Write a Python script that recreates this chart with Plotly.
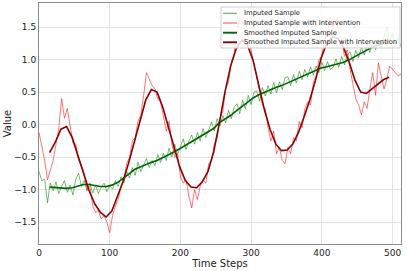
import plotly.graph_objects as go

# Raw series sampled every 4 time steps (0..512)
raw_t = list(range(0, 513, 4))
imputed = [
    -0.72, -0.86, -0.84, -1.20, -0.90, -1.02, -0.88, -1.06, -0.95, -0.86,   # 0-36
    -1.04, -0.93, -1.08, -0.84, -0.75, -0.95, -0.86, -1.02, -0.90, -1.05,   # 40-76
    -0.93, -1.06, -0.96, -0.90, -1.03, -0.94, -0.99, -0.86, -0.95, -0.80,   # 80-116
    -0.90, -0.72, -0.82, -0.66, -0.78, -0.58, -0.72, -0.62, -0.52, -0.66,   # 120-156
    -0.55, -0.63, -0.46, -0.58, -0.44, -0.55, -0.36, -0.50, -0.30, -0.46,   # 160-196
    -0.34, -0.22, -0.38, -0.25, -0.16, -0.30, -0.12, -0.25, -0.06, -0.20,   # 200-236
    -0.08, 0.04, -0.10, 0.09, -0.02, 0.14, 0.03, 0.22, 0.09, 0.27,          # 240-276
    0.32, 0.17, 0.38, 0.24, 0.45, 0.31, 0.50, 0.52, 0.36, 0.57,             # 280-316
    0.44, 0.60, 0.47, 0.65, 0.49, 0.66, 0.54, 0.72, 0.74, 0.60,             # 320-356
    0.77, 0.64, 0.82, 0.69, 0.85, 0.73, 0.89, 0.76, 0.90, 0.80,             # 360-396
    0.96, 0.83, 0.97, 0.85, 0.88, 1.01, 0.88, 1.05, 0.92, 1.07,             # 400-436
    1.12, 0.97, 1.14, 1.03, 1.19, 1.07, 1.24, 1.11, 1.28, 1.15,             # 440-476
    1.31, 1.19, 1.36, 1.50, 1.28, 1.40, 1.22, 1.34, 1.20,                   # 480-512
]
intervention = [
    -0.12, -0.35, -0.55, -0.85, -0.70, -0.55, -0.30, -0.05, 0.40, 0.10,
    0.25, -0.05, -0.28, -0.30, -0.55, -0.62, -0.75, -1.00, -0.95, -1.25,
    -1.35, -1.32, -1.45, -1.40, -1.50, -1.66, -1.40, -1.25, -1.15, -0.95,
    -0.85, -0.60, -0.50, -0.25, -0.20, 0.05, 0.15, 0.45, 0.80, 0.70,
    0.60, 0.55, 0.40, 0.35, 0.15, -0.10, 0.05, -0.30, -0.50, -0.45,
    -0.80, -0.90, -0.85, -1.10, -1.28, -1.00, -1.15, -0.95, -0.85, -0.90,
    -0.60, -0.55, -0.30, -0.20, 0.10, 0.20, 0.55, 0.65, 0.95, 1.10,
    1.40, 1.65, 1.55, 1.60, 1.35, 1.15, 0.95, 0.70, 0.50, 0.30,
    0.25, -0.05, -0.25, -0.10, -0.45, -0.35, -0.55, -0.60, -0.35, -0.45,
    -0.20, -0.25, 0.05, -0.05, 0.25, 0.35, 0.30, 0.65, 0.75, 1.00,
    1.05, 1.30, 1.45, 1.65, 1.50, 1.60, 1.45, 1.30, 1.05, 1.15,
    0.85, 0.60, 0.40, 0.30, 0.15, 0.35, 0.25, 0.55, 0.80, 0.45,
    0.95, 0.75, 0.55, 0.70, 0.90, 0.85, 0.80, 0.75, 0.78,
]

# Smoothed series sampled every 8 time steps (15..495)
smooth_t = list(range(15, 496, 8))
smooth_imputed = [
    -0.96, -0.97, -0.98, -0.98, -0.97, -0.95, -0.92, -0.92, -0.94, -0.95,
    -0.95, -0.93, -0.89, -0.83, -0.76, -0.69, -0.65, -0.61, -0.58, -0.55,
    -0.51, -0.47, -0.42, -0.37, -0.32, -0.27, -0.22, -0.17, -0.12, -0.06,
    0.03, 0.08, 0.14, 0.21, 0.28, 0.35, 0.41, 0.46, 0.50, 0.53,
    0.57, 0.60, 0.64, 0.68, 0.72, 0.76, 0.80, 0.84, 0.87, 0.89,
    0.91, 0.93, 0.96, 1.00, 1.05, 1.10, 1.15, 1.19, 1.22, 1.25, 1.28,
]
smooth_intervention = [
    -0.43, -0.27, -0.07, -0.03, -0.20, -0.48, -0.76, -1.02, -1.22, -1.35,
    -1.42, -1.33, -1.10, -0.87, -0.58, -0.27, 0.08, 0.38, 0.54, 0.50,
    0.27, -0.04, -0.36, -0.65, -0.86, -0.96, -0.97, -0.88, -0.72, -0.42,
    0.02, 0.50, 0.90, 1.17, 1.30, 1.22, 0.98, 0.62, 0.22, -0.08,
    -0.30, -0.40, -0.39, -0.30, -0.12, 0.12, 0.38, 0.68, 1.02, 1.25,
    1.35, 1.32, 1.18, 0.95, 0.68, 0.50, 0.48, 0.55, 0.62, 0.69, 0.73,
]

x_ticks = [0, 100, 200, 300, 400, 500]
y_ticks = [-1.5, -1.0, -0.5, 0.0, 0.5, 1.0, 1.5]

names = ["Imputed Sample", "Imputed Sample with Intervention",
         "Smoothed Imputed Sample", "Smoothed Imputed Sample with Intervention"]
colors = ["rgba(0,128,0,0.6)", "rgba(255,0,0,0.6)", "#006400", "#8b0000"]
widths = [0.9, 0.9, 1.6, 1.6]

# figure geometry (pixels)
W, H = 407, 271
ML, MR, MT, MB = 39, 6, 3, 27
PW, PH = W - ML - MR, H - MT - MB


def px(x):
    return (x - ML) / PW


def py(y):
    return (H - MB - y) / PH


fig = go.Figure()
series = [(raw_t, imputed), (raw_t, intervention),
          (smooth_t, smooth_imputed), (smooth_t, smooth_intervention)]
for (xs, ys), n, c, w in zip(series, names, colors, widths):
    fig.add_trace(go.Scatter(x=xs, y=ys, mode="lines", name=n,
                             line=dict(color=c, width=w), showlegend=False,
                             hoverinfo="skip"))

axis_common = dict(showline=True, linecolor="#8c8c8c", linewidth=1, mirror=True,
                   showgrid=True, gridcolor="#e3e3e3", gridwidth=1, zeroline=False,
                   ticks="", automargin=False, tickfont=dict(size=9, color="#222"))
fig.update_xaxes(range=[0, 512], tickvals=x_ticks,
                 title=dict(text="Time Steps", font=dict(size=10, color="#222"), standoff=2),
                 **axis_common)
fig.update_yaxes(range=[-1.835, 1.87], tickvals=y_ticks, tickformat=".1f",
                 title=dict(text="Value", font=dict(size=10, color="#222"), standoff=0),
                 **axis_common)

# legend drawn manually (matplotlib-like compact legend)
lx0, lx1, ly0, ly1 = 221, 400, 7, 48
shapes = [dict(type="rect", xref="paper", yref="paper", layer="above",
               x0=px(lx0), x1=px(lx1), y0=py(ly1), y1=py(ly0),
               fillcolor="rgba(255,255,255,0.82)", line=dict(color="#cfcfcf", width=1))]
annotations = []
rows = [13.3, 23.0, 32.7, 42.3]
for ry, n, c, w in zip(rows, names, colors, widths):
    shapes.append(dict(type="line", xref="paper", yref="paper", layer="above",
                       x0=px(223), x1=px(237), y0=py(ry), y1=py(ry),
                       line=dict(color=c, width=w + 0.3)))
    annotations.append(dict(text=n, xref="paper", yref="paper", x=px(241.5), y=py(ry),
                            xanchor="left", yanchor="middle", showarrow=False,
                            font=dict(size=6.8, color="#222")))

fig.update_layout(
    width=W, height=H,
    margin=dict(l=ML, r=MR, t=MT, b=MB),
    paper_bgcolor="white", plot_bgcolor="white",
    font=dict(family="DejaVu Sans", color="#222"),
    showlegend=False, hovermode=False,
    shapes=shapes, annotations=annotations,
)

fig.write_html("out.html",
               config={"displayModeBar": False, "staticPlot": True},
               post_script="document.body.style.margin='0px';"
                           "document.body.style.padding='0px';"
                           "document.body.style.overflow='hidden';")
